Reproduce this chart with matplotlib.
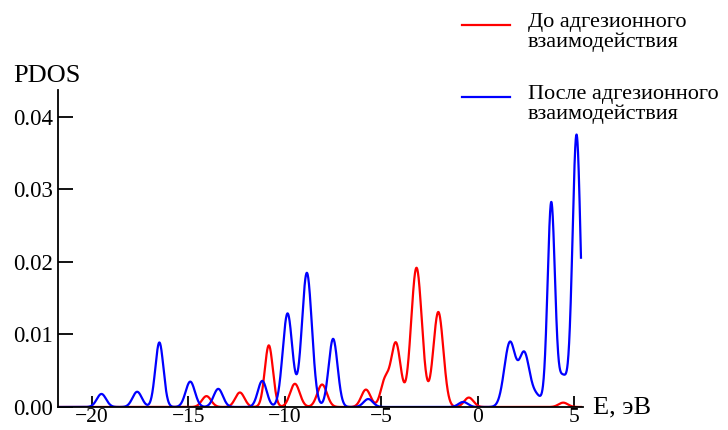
import numpy as np
import matplotlib.pyplot as plt
from matplotlib.lines import Line2D

plt.rcParams['font.family'] = ['Liberation Serif', 'DejaVu Serif']

# сетка энергий, эВ
energy = np.linspace(-21.75, 5.34, 3000)

# пики PDOS до адгезии: центр (эВ), высота, уширение (эВ)
before_centers = [-14.06, -12.33, -10.83, -9.48, -8.07, -5.8, -4.82, -4.25, -3.18, -2.05, -0.47, 4.42]
before_heights = [0.0015, 0.0020, 0.0085, 0.0032, 0.0031, 0.0024, 0.0035, 0.0088, 0.0192, 0.0131, 0.0013, 0.0006]
before_widths = [0.24, 0.24, 0.21, 0.25, 0.25, 0.24, 0.22, 0.25, 0.28, 0.26, 0.24, 0.24]

# пики PDOS после адгезии
after_centers = [-19.5, -17.65, -16.5, -14.9, -13.45, -11.17, -9.86, -8.86, -7.5, -5.68, -0.76,
                 1.66, 2.4, 3.0, 3.8, 4.4, 5.11]
after_heights = [0.0018, 0.0021, 0.0089, 0.0035, 0.0025, 0.0036, 0.0129, 0.0185, 0.0094, 0.0011, 0.0007,
                 0.0089, 0.0071, 0.0016, 0.0280, 0.0042, 0.0375]
after_widths = [0.24, 0.24, 0.21, 0.24, 0.24, 0.23, 0.25, 0.26, 0.23, 0.24, 0.24,
                0.29, 0.26, 0.3, 0.19, 0.25, 0.21]

labels = ['До адгезионного\nвзаимодействия', 'После адгезионного\nвзаимодействия']
colors = ['#ff0000', '#0000ff']


def pdos(c, h, w):
    y = np.zeros_like(energy)
    for ci, hi, wi in zip(c, h, w):
        y += hi * np.exp(-(energy - ci) ** 2 / (2 * wi ** 2))
    return y


fig = plt.figure(figsize=(7.28, 4.30), dpi=100)
ax = fig.add_axes([0.0797, 0.0535, 0.721, 0.737])

ax.plot(energy, pdos(before_centers, before_heights, before_widths), color=colors[0], lw=1.6)
ax.plot(energy, pdos(after_centers, after_heights, after_widths), color=colors[1], lw=1.6)

ax.set_xlim(-21.75, 5.44)
ax.set_ylim(0, 0.0437)
ax.set_xticks([-20, -15, -10, -5, 0, 5])
ax.set_xticklabels(['\u221220', '\u221215', '\u221210', '\u22125', '0', '5'])
ax.set_yticks([0, 0.01, 0.02, 0.03, 0.04])
ax.set_yticklabels(['0.00', '0.01', '0.02', '0.03', '0.04'])

for s in ['top', 'right']:
    ax.spines[s].set_visible(False)
for s in ['left', 'bottom']:
    ax.spines[s].set_linewidth(1.3)
    ax.spines[s].set_zorder(3)

ax.tick_params(axis='y', direction='in', length=11, width=1.3, labelsize=16.5, pad=3.5)
ax.tick_params(axis='x', direction='in', length=8, width=1.3, labelsize=15.5, pad=1)

fig.text(0.018, 0.797, 'PDOS', fontsize=19, ha='left', va='bottom')
fig.text(0.814, 0.052, 'E, эВ', fontsize=19, ha='left', va='center')

# легенда
for i in range(2):
    yl = [0.942, 0.775][i]
    fig.add_artist(Line2D([0.634, 0.700], [yl, yl], color=colors[i], lw=1.6,
                          transform=fig.transFigure))
    fig.text(0.725, yl + 0.028, labels[i], fontsize=16, ha='left', va='top', linespacing=1.02)

fig.savefig('out.png', dpi=100)
